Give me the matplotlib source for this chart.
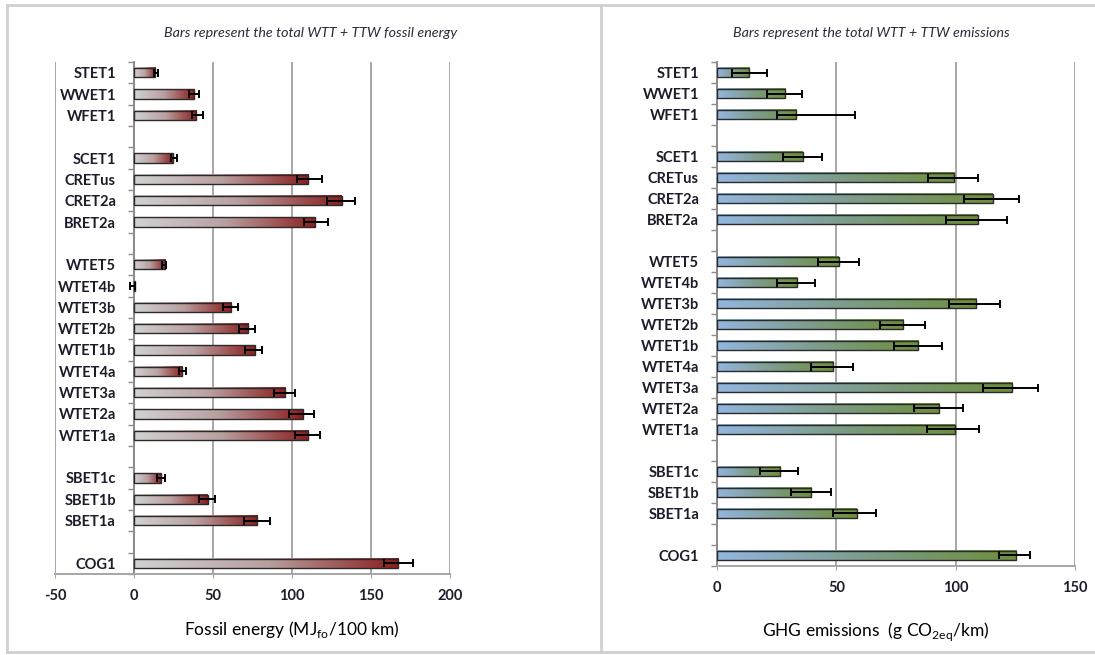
import numpy as np
import matplotlib
matplotlib.use("Agg")
import matplotlib.pyplot as plt
from matplotlib.colors import LinearSegmentedColormap
from matplotlib.lines import Line2D
from matplotlib.transforms import blended_transform_factory

plt.rcParams['font.family'] = ['Lato', 'DejaVu Sans']

# categories top to bottom, split in groups (a blank row between groups)
categories = ['STET1', 'WWET1', 'WFET1',
              'SCET1', 'CRETus', 'CRET2a', 'BRET2a',
              'WTET5', 'WTET4b', 'WTET3b', 'WTET2b', 'WTET1b',
              'WTET4a', 'WTET3a', 'WTET2a', 'WTET1a',
              'SBET1c', 'SBET1b', 'SBET1a',
              'COG1']
group_sizes = [3, 4, 9, 3, 1]

# fossil energy (MJ_fo/100 km): bar value, low and high end of error bar
fossil = [13.5, 37.7, 39.5,
          24.5, 110.3, 131.4, 114.7,
          19.7, 0.5, 61.6, 72.2, 76.4,
          30.7, 95.7, 106.9, 110.3,
          16.9, 46.6, 78.1,
          167.4]
fossil_lo = [12.9, 35.1, 36.6,
             23.3, 103.3, 121.9, 107.5,
             18.0, -2.5, 56.1, 66.2, 70.0,
             28.6, 88.4, 98.4, 102.2,
             14.4, 41.3, 69.8,
             158.1]
fossil_hi = [15.4, 41.3, 43.4,
             27.1, 119.2, 140.1, 122.7,
             20.5, 0.8, 65.6, 76.8, 81.1,
             33.2, 102.0, 113.8, 117.9,
             19.7, 51.2, 85.9,
             176.7]

# GHG emissions (g CO2eq/km)
ghg = [13.5, 28.5, 33.2,
       36.0, 99.4, 115.5, 109.3,
       51.1, 33.6, 108.5, 78.1, 84.3,
       48.8, 123.7, 93.1, 99.9,
       26.4, 39.5, 58.5,
       125.3]
ghg_lo = [6.3, 20.8, 25.0,
          27.8, 88.4, 103.5, 95.9,
          42.4, 25.0, 97.3, 68.3, 74.2,
          39.4, 111.3, 82.5, 88.1,
          18.0, 30.9, 48.7,
          118.3]
ghg_hi = [20.8, 35.6, 58.0,
          44.0, 109.3, 126.5, 121.3,
          59.4, 41.2, 118.6, 87.1, 94.1,
          57.1, 134.4, 102.9, 109.9,
          33.9, 47.6, 66.6,
          131.3]

fossil_ticks = [-50, 0, 50, 100, 150, 200]
ghg_ticks = [0, 50, 100, 150]

# slot positions with one empty slot between groups
pos = []
slot = 0
for g in group_sizes:
    for i in range(g):
        pos.append(slot)
        slot += 1
    slot += 1
last = pos[-1]

txt_col = '#1c1c2a'
grid_col = '#a6a6a6'
h = 0.43

red_cmap = LinearSegmentedColormap.from_list('gr', ['#d2d2d2', '#b9a0a0', '#8b1e1e'])
green_cmap = LinearSegmentedColormap.from_list('bg', ['#93b6e0', '#7d9c8a', '#6d8f3c'])

grad = np.linspace(0, 1, 256).reshape(1, -1)


def draw_panel(ax, vals, lo, hi, cmap, xlim, ticks):
    # y axis sits at x = 0 (must come before tick labels, it resets ticks)
    for s in ['top', 'right']:
        ax.spines[s].set_visible(False)
    ax.spines['left'].set_position(('data', 0))
    ax.spines['left'].set_color('#8c8c8c')
    ax.spines['left'].set_linewidth(1.4)
    ax.spines['bottom'].set_color(grid_col)
    ax.spines['bottom'].set_linewidth(1.4)

    for y, v in zip(pos, vals):
        ax.imshow(grad, extent=[0, v, y + h / 2, y - h / 2], cmap=cmap,
                  aspect='auto', interpolation='bilinear', zorder=2)
    ax.barh(pos, vals, height=h, fill=False, edgecolor='#2a2a2a', lw=1.0, zorder=3)
    vals = np.array(vals)
    xerr = [vals - np.array(lo), np.array(hi) - vals]
    ax.errorbar(vals, pos, xerr=xerr, fmt='none', ecolor='black', elinewidth=1.4,
                capsize=3, capthick=1.4, zorder=4)
    ax.set_xlim(*xlim)
    ax.set_ylim(last + 0.5, -0.5)
    ax.set_xticks(ticks)
    ax.set_xticklabels([str(t) for t in ticks], fontsize=10.5, fontweight='bold', color=txt_col)
    ax.grid(axis='x', color=grid_col, lw=1.4, zorder=0)
    ax.set_axisbelow(True)
    ax.set_yticks(pos)
    ax.set_yticklabels(categories, fontsize=10.5, fontweight='bold', color=txt_col)
    ax.set_yticks(np.arange(-0.5, last + 1, 1), minor=True)
    ax.tick_params(axis='y', which='major', length=0, pad=13)
    ax.tick_params(axis='y', which='minor', length=4.5, width=1, color='#8c8c8c', direction='out')
    ax.tick_params(axis='x', length=3, color=grid_col, pad=8)


fig = plt.figure(figsize=(10.95, 6.55), dpi=100)
ax1 = fig.add_axes([0.0502, 0.1237, 0.3607, 0.7816])
ax2 = fig.add_axes([0.6548, 0.1359, 0.3270, 0.7694])

draw_panel(ax1, fossil, fossil_lo, fossil_hi, red_cmap, (-50, 200), fossil_ticks)
draw_panel(ax2, ghg, ghg_lo, ghg_hi, green_cmap, (0, 150), ghg_ticks)

tr1 = blended_transform_factory(ax1.transData, ax1.transAxes)
ax1.text(100, -0.109, r'Fossil energy (MJ$_{\mathregular{fo}}$/100 km)', transform=tr1,
         ha='center', va='center', fontsize=12.5, color='black')
ax2.text(0.444, -0.131, r'GHG emissions  (g CO$_{\mathregular{2eq}}$/km)', transform=ax2.transAxes,
         ha='center', va='center', fontsize=12.5, color='black')

fig.text(0.284, 0.9496, 'Bars represent the total WTT + TTW fossil energy', ha='center', va='center',
         fontsize=10.3, style='italic', color='#2a2a3a')
fig.text(0.796, 0.9496, 'Bars represent the total WTT + TTW emissions', ha='center', va='center',
         fontsize=10.3, style='italic', color='#2a2a3a')

# panel frames
fcol = '#cfcfcf'
fig.add_artist(Line2D([0.0064, 1.0], [0.9924, 0.9924], color=fcol, lw=2))
fig.add_artist(Line2D([0.0064, 1.0], [0.0046, 0.0046], color=fcol, lw=2))
fig.add_artist(Line2D([0.0064, 0.0064], [0.0046, 0.9924], color=fcol, lw=2))
fig.add_artist(Line2D([0.5489, 0.5489], [0.0046, 0.9924], color=fcol, lw=2))

fig.savefig('out.png', dpi=100)
